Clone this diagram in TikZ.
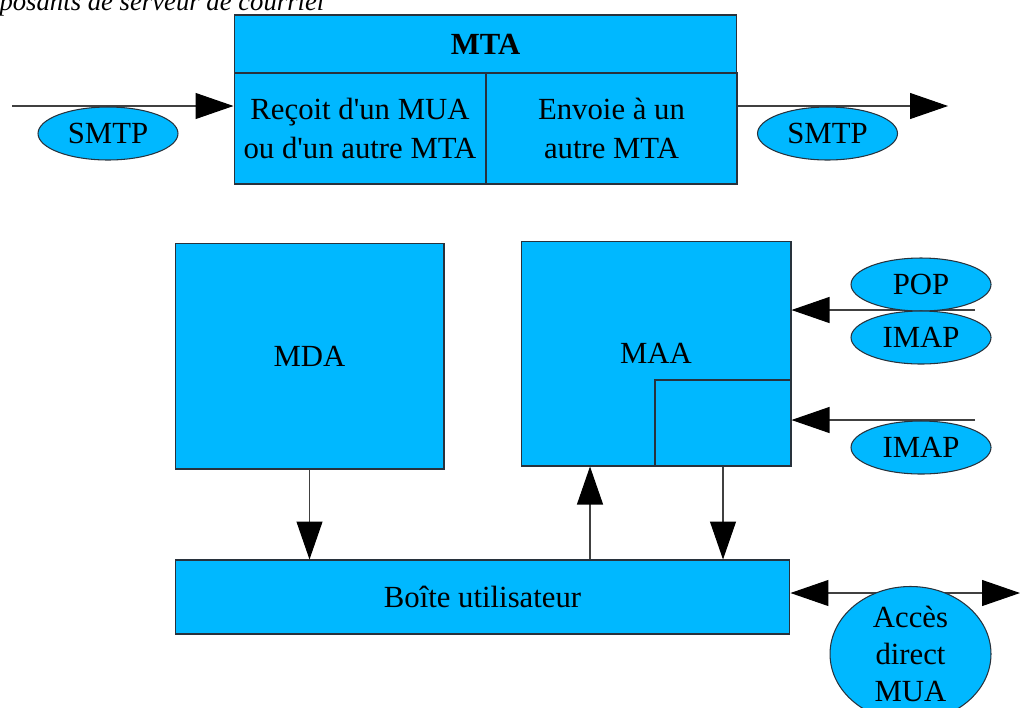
\documentclass[tikz,border=0pt]{standalone}
\usepackage{fontspec}
\setmainfont{Liberation Serif}
\usetikzlibrary{arrows.meta,shapes.geometric}
\definecolor{boxcyan}{RGB}{0,184,255}
\definecolor{edgegray}{RGB}{40,50,60}
\newcommand\apos{\textquotesingle}

\begin{document}
\begin{tikzpicture}[x=0.02cm,y=-0.02cm,line width=0.6pt,
	font=\fontsize{17.5}{22.5}\selectfont,
	box/.style={draw=edgegray,fill=boxcyan,rectangle,inner sep=0pt,align=center},
	oval/.style={draw=edgegray,fill=boxcyan,ellipse,inner sep=0pt,align=center,
		minimum width=2.8cm,minimum height=1.06cm},
	arr/.style={-{Triangle[length=7.6mm,width=5.2mm,color=black]},draw=black!75},
	arrs/.style={{Triangle[length=7.6mm,width=5.2mm,color=black]}-{Triangle[length=7.6mm,width=5.2mm,color=black]},draw=black!75}]
\useasboundingbox (0,0) rectangle (1020,707);
\clip (0,0) rectangle (1020,707);

% titre (coupe a gauche)
\node[anchor=base west,inner sep=0pt,font=\fontsize{15.2}{20}\itshape] (titre) at (-1,10) {posants de serveur de courriel};

% MTA
\node[box,minimum width=10.06cm,minimum height=1.16cm,font=\fontsize{17.5}{22}\bfseries] (mtahead) at (485.5,44) {MTA};
\node[box,minimum width=5.04cm,minimum height=2.22cm] (mtain) at (360,128.5) {Reçoit d\apos un MUA\\ou d\apos un autre MTA};
\node[box,minimum width=5.02cm,minimum height=2.22cm] (mtaout) at (611.5,128.5) {Envoie à un\\autre MTA};

\coordinate (entree) at (12,106);
\coordinate (sortie) at (948,106);
\draw[arr] (entree) -- (entree -| mtain.west);
\draw[arr] (sortie -| mtaout.east) -- (sortie);
\node[oval] (smtpin) at (108,133.5) {SMTP};
\node[oval] (smtpout) at (827.5,133.5) {SMTP};

% MDA / MAA
\node[box,minimum width=5.38cm,minimum height=4.52cm] (mda) at (309.5,356) {MDA};
\node[box,minimum width=5.4cm,minimum height=4.5cm] (maa) at (656,353.5) {MAA};
\node[box,minimum width=2.72cm,minimum height=1.72cm] (maasub) at (723,423) {};

% Boite
\node[box,minimum width=12.3cm,minimum height=1.48cm] (boite) at (482.5,597) {Boîte utilisateur};

% acces POP / IMAP
\coordinate (popin) at (975,310);
\coordinate (imapin) at (975,420);
\draw[arr] (popin) -- (popin -| maa.east);
\draw[arr] (imapin) -- (imapin -| maasub.east);
\node[oval] (pop) at (921,284.5) {POP};
\node[oval] (imap) at (921,337.5) {IMAP};
\node[oval] (imapb) at (921,447.5) {IMAP};

% liaisons avec la boite
\coordinate (montee) at (590,0);
\draw[arr] (mda.south) -- (mda.south |- boite.north);
\draw[arr] (montee |- boite.north) -- (montee |- maa.south);
\draw[arr] (maasub.south) -- (maasub.south |- boite.north);

\coordinate (direct) at (1020,593);
\draw[arrs] (direct -| boite.east) -- (direct);
\node[oval,minimum width=3.22cm,minimum height=2.32cm,font=\fontsize{17.5}{21}\selectfont] (mua) at (910.5,654) {Accès\\direct\\MUA};
\end{tikzpicture}
\end{document}
